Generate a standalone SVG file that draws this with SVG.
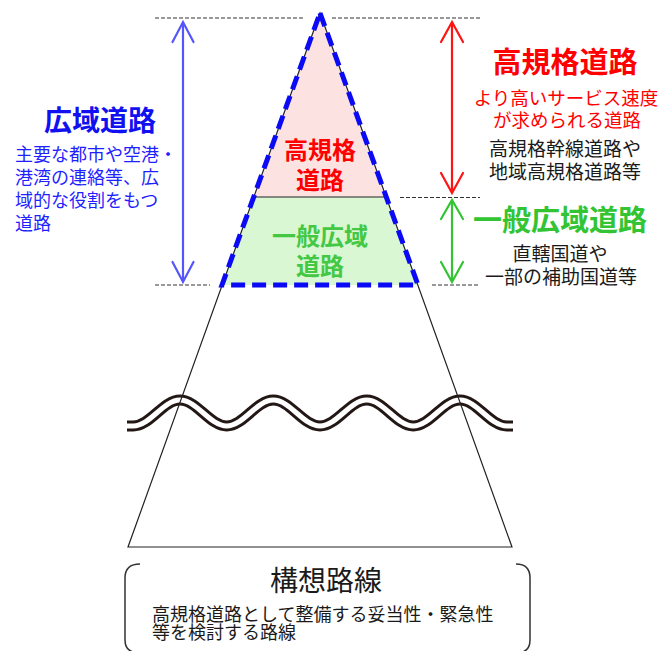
<svg xmlns="http://www.w3.org/2000/svg" width="659" height="651" viewBox="0 0 659 651">
<style>
text{font-family:"Noto Sans CJK JP","Noto Sans",sans-serif}
.b{font-weight:bold}
.c{text-anchor:middle}
.dash{stroke:#333;stroke-width:1;stroke-dasharray:4 2;fill:none}
.thin{stroke:#222;stroke-width:1.2;fill:none}
.arw{fill:none;stroke-width:2.2;stroke-linecap:round;stroke-linejoin:miter}
.blk{fill:#1a1a1a}
</style>
<rect width="659" height="651" fill="#fff"/>
<g id="pyramid">
<polygon points="320,13 386.3,197 253.7,197" fill="#fde2e2"/>
<polygon points="253.7,197 386.3,197 418,285 222,285" fill="#d8f7d2"/>
</g>
<g id="wave">
<path d="M127,426 L133.3,426 C150.1,426 163.2,400 180,400 S209.9,426 226.7,426 S256.5,400 273.3,400 S303.2,426 320,426 S349.9,400 366.7,400 S396.5,426 413.3,426 S443.2,400 460,400 S489.9,426 506.7,426 L513,426" fill="none" stroke="#231815" stroke-width="11"/>
<path d="M127,426 L133.3,426 C150.1,426 163.2,400 180,400 S209.9,426 226.7,426 S256.5,400 273.3,400 S303.2,426 320,426 S349.9,400 366.7,400 S396.5,426 413.3,426 S443.2,400 460,400 S489.9,426 506.7,426 L513,426" fill="none" stroke="#fff" stroke-width="5"/>
</g>
<g id="outer-triangle">
<path class="thin" d="M320,13 L128,547 L512,547 Z"/>
<line class="thin" x1="253.7" y1="197" x2="386.3" y2="197"/>
</g>
<g id="dashed-triangle">
<path d="M320,13 L418,285 L222,285 Z" fill="none" stroke="#0a0af5" stroke-width="5" stroke-dasharray="14 7" stroke-linejoin="miter"/>
</g>
<g id="connectors">
<line class="dash" x1="155" y1="18" x2="305" y2="18"/>
<line class="dash" x1="332" y1="18" x2="480" y2="18"/>
<line class="dash" x1="400" y1="197.5" x2="480" y2="197.5"/>
<line class="dash" x1="155" y1="285" x2="210" y2="285"/>
<line class="dash" x1="432" y1="285" x2="480" y2="285"/>
<g class="arw" stroke="#5555ff">
<line x1="183" y1="23" x2="183" y2="281"/>
<path d="M172.5,42 L183,22 L193.5,42"/>
<path d="M172.5,262 L183,282 L193.5,262"/>
</g>
<g class="arw" stroke="#ff1414">
<line x1="452" y1="23" x2="452" y2="192"/>
<path d="M441,42 L452,22 L463,42"/>
<path d="M441,173 L452,193 L463,173"/>
</g>
<g class="arw" stroke="#33c433">
<line x1="452" y1="201" x2="452" y2="281"/>
<path d="M441,219 L452,200 L463,219"/>
<path d="M441,262 L452,282 L463,262"/>
</g>
</g>
<g id="node-kouiki">
<text class="b c" x="100" y="131" font-size="28" fill="#1010f0">広域道路</text>
<text x="15" y="161" font-size="18" fill="#1f1fff">主要な都市や空港・</text>
<text x="15" y="184" font-size="18" fill="#1f1fff">港湾の連絡等、広</text>
<text x="15" y="207" font-size="18" fill="#1f1fff">域的な役割をもつ</text>
<text x="15" y="230" font-size="18" fill="#1f1fff">道路</text>
</g>
<g id="node-koukikaku">
<text class="b c" x="565" y="73" font-size="29" fill="#ff0000">高規格道路</text>
<text class="c" x="566" y="105" font-size="18.5" fill="#ff0000">より高いサービス速度</text>
<text class="c" x="567" y="127" font-size="18.5" fill="#ff0000">が求められる道路</text>
<text class="c blk" x="565" y="156" font-size="19">高規格幹線道路や</text>
<text class="c blk" x="565" y="179" font-size="19">地域高規格道路等</text>
</g>
<g id="node-ippan">
<text class="b c" x="560" y="231" font-size="29" fill="#33c433">一般広域道路</text>
<text class="c blk" x="560" y="261" font-size="19">直轄国道や</text>
<text class="c blk" x="561" y="284" font-size="19">一部の補助国道等</text>
</g>
<g id="node-tri-top">
<text class="b c" x="320" y="159" font-size="24" fill="#ff0000">高規格</text>
<text class="b c" x="320" y="189" font-size="24" fill="#ff0000">道路</text>
</g>
<g id="node-tri-bottom">
<text class="b c" x="320" y="245" font-size="24" fill="#44c844">一般広域</text>
<text class="b c" x="320" y="275" font-size="24" fill="#44c844">道路</text>
</g>
<g id="node-kousou">
<path d="M140,564 Q125,564 125,578 L125,640 Q125,653 140,653" fill="none" stroke="#333" stroke-width="1.5"/>
<path d="M516,564 Q530,564 530,578 L530,640 Q530,653 516,653" fill="none" stroke="#333" stroke-width="1.5"/>
<text class="c blk" x="326" y="591" font-size="28">構想路線</text>
<text class="blk" x="152" y="621" font-size="18">高規格道路として整備する妥当性・緊急性</text>
<text class="blk" x="152" y="639" font-size="18">等を検討する路線</text>
</g>
</svg>
